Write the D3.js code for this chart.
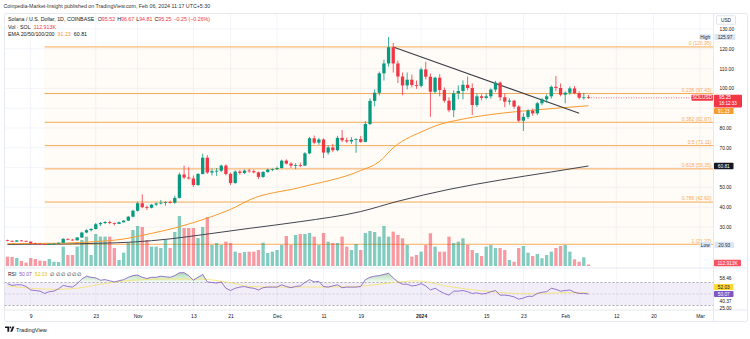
<!DOCTYPE html>
<html><head><meta charset="utf-8">
<script src="https://cdn.jsdelivr.net/npm/d3@7"></script>
<style>body{margin:0;background:#fff}svg{display:block}</style>
</head><body><svg id="c" width="750" height="339"></svg>
<script>
// ---------------- DATA ----------------
const firstDay = "2023-10-04";
const opens  = [23.3,23.0,22.6,23.2,23.0,22.6,21.7,21.6,21.3,21.2,21.5,21.6,22.0,24.0,23.6,23.3,24.7,27.2,28.4,29.0,31.4,32.0,32.5,32.0,31.6,32.4,33.2,35.2,38.2,42.0,40.0,39.7,41.3,41.9,42.3,42.6,42.3,44.7,56.5,55.0,54.5,51.2,56.8,65.0,57.5,58.2,58.4,61.0,56.8,52.2,58.0,57.3,58.5,58.2,57.6,55.3,57.8,59.0,59.2,59.8,63.5,62.0,61.0,61.2,61.0,67.2,74.8,72.6,74.2,67.6,70.2,68.8,75.0,73.8,73.2,74.0,74.4,73.0,82.0,93.7,97.8,107.6,112.6,120.8,112.6,106.0,101.5,104.4,101.7,101.3,109.6,105.9,98.3,105.4,99.2,93.8,89.0,97.5,98.7,101.8,100.2,91.6,96.0,95.2,96.0,99.4,102.9,95.5,93.3,93.8,90.8,83.7,85.6,88.7,87.4,92.5,94.5,96.0,100.8,100.2,96.8,97.8,100.0,97.6,95.3,95.52];
const highs  = [23.6,23.2,23.4,23.4,23.1,22.7,22.1,21.7,21.5,21.7,21.8,22.2,24.4,24.3,24.0,24.9,27.6,28.8,29.4,32.0,32.6,33.0,33.2,32.2,32.8,33.5,35.5,38.8,42.8,46.5,40.8,41.6,42.4,43.6,43.0,43.3,45.8,57.5,61.0,60.2,56.0,57.2,67.0,66.3,59.5,59.8,61.5,61.6,57.5,58.6,58.8,59.0,59.4,59.0,58.0,58.2,59.5,59.6,60.5,64.0,64.2,62.8,62.2,62.5,67.8,75.5,76.2,75.0,74.8,71.2,72.0,76.0,79.0,75.2,75.4,74.8,76.0,83.5,95.0,99.5,108.5,114.5,125.97,123.0,114.0,108.0,108.0,107.0,104.0,110.5,113.5,107.5,106.0,107.2,100.5,95.5,99.0,101.5,104.0,106.0,102.5,97.5,97.0,97.5,100.0,103.8,103.5,97.5,95.0,94.2,91.5,87.5,89.5,89.8,93.2,95.2,97.0,101.5,106.3,102.5,98.5,101.0,101.2,98.5,97.8,96.67];
const lows   = [22.8,22.4,22.5,22.8,22.4,21.4,21.4,21.1,20.93,21.1,21.3,21.5,21.9,23.3,23.1,23.1,24.5,26.9,27.8,28.7,30.5,31.5,31.4,30.8,31.5,32.2,33.0,34.8,37.8,39.5,38.6,39.4,40.6,41.4,40.8,41.8,41.6,44.4,54.2,54.0,50.2,50.8,56.5,56.8,56.0,55.8,57.8,56.0,51.2,51.8,56.4,56.8,57.4,57.0,54.2,54.8,57.4,58.2,58.8,59.5,61.6,59.8,59.2,60.2,60.8,66.8,71.8,71.5,64.8,66.5,67.8,68.2,72.8,72.4,72.0,67.5,72.5,72.8,81.5,91.0,96.5,104.0,111.0,108.0,102.7,96.5,99.5,100.5,99.8,100.5,104.5,85.7,97.5,96.0,92.8,88.0,85.5,94.5,94.5,99.0,86.6,90.5,94.0,94.5,94.8,98.2,93.8,90.5,91.8,89.8,83.0,78.5,84.5,86.2,86.5,91.5,92.8,94.8,98.5,96.0,92.5,96.8,97.0,94.5,94.3,94.81];
const closes = [23.0,22.6,23.2,23.0,22.6,21.7,21.6,21.3,21.2,21.5,21.6,22.0,24.0,23.6,23.3,24.7,27.2,28.4,29.0,31.4,32.0,32.5,32.0,31.6,32.4,33.2,35.2,38.2,42.0,40.0,39.7,41.3,41.9,42.3,42.6,42.3,44.7,56.5,55.0,54.5,51.2,56.8,65.0,57.5,58.2,58.4,61.0,56.8,52.2,58.0,57.3,58.5,58.2,57.6,55.3,57.8,59.0,59.2,59.8,63.5,62.0,61.0,61.2,61.0,67.2,74.8,72.6,74.2,67.6,70.2,68.8,75.0,73.8,73.2,74.0,74.4,73.0,82.0,93.7,97.8,107.6,112.6,120.8,112.6,106.0,101.5,104.4,101.7,101.3,109.6,105.9,98.3,105.4,99.2,93.8,89.0,97.5,98.7,101.8,100.2,91.6,96.0,95.2,96.0,99.4,102.9,95.5,93.3,93.8,90.8,83.7,85.6,88.7,87.4,92.5,94.5,96.0,100.8,100.2,96.8,97.8,100.0,97.6,95.3,95.50,95.25];
// volume, thousands of SOL
const volumes = [700,675,600,375,250,600,525,400,375,525,320,300,1450,825,825,1450,1950,2200,825,2400,2200,2200,2200,1350,450,1000,1725,2700,3000,2925,1950,1450,1450,1350,1950,1350,2550,3750,2850,2850,2850,2100,2925,3675,1575,1725,1575,1825,1725,1075,975,1050,1075,1075,1200,1750,975,1075,1200,1575,2250,1575,2325,2400,2400,2475,2200,1575,2475,1825,1725,1725,2200,1450,1200,1650,1200,2475,2625,2550,2200,3000,2200,2575,2325,2075,1575,700,825,1075,1575,2450,1450,1075,1075,2200,1725,1825,2075,1575,1200,975,750,1450,1575,1350,1350,1200,450,320,1350,1500,1000,750,900,580,825,1075,1350,1500,1575,1075,500,320,650,112.913];
// RSI (14)
const rsiValues = [68,65,66,66,63,57,56,55,51,54,55,59,65,63,62,68,76,81,79,78,74,75,73,71,73,75,79,82,83,79,77,79,79,81,80,79,82,87,87,82,74,79,84,71,70,69,71,60,56,60,62,63,61,60,57,61,62,62,62,66,63,61,63,64,70,75,71,72,63,62,64,66,61,62,62,62,63,75,79,81,82,84,86,78,71,67,67,64,65,68,64,57,60,55,51,48,55,55,56,54,51,52,50,51,54,56,48,48,47,45,41,43,46,46,51,53,54,60,58,55,56,57,53,51,51,50.07];
// RSI-based MA (sampled points: day index, value)
const rsiMaDays = [0,5,10,15,20,27,34,41,49,52,63,74,81,88,95,102,106,113,120,125];
const rsiMaVals = [64,60,58,60,67,74,76,76,68,63,62,62.5,68,73,63,55.5,52.5,50.3,52.5,52.03];
// EMA lines (sampled points: day index, value)
const emaOrangeDays = [0,11,20,24,31,36,39,43,49,52,63,76,80,83,90,92,98,106,113,125];
const emaOrangeVals = [21.6,21.8,22.8,23.6,26.8,29.5,31.5,34.5,40,43.6,50,58.5,63,70,79,81,84.5,87.4,89,91.23];
const emaDarkDays = [0,11,20,27,35,41,52,63,76,84,95,106,117,125];
const emaDarkVals = [21.2,21.4,21.8,22.4,24.0,25.8,29.3,32.7,37.8,43.0,49.0,53.7,57.8,60.81];
// Fibonacci retracement
const fibRatios = ["0","0.236","0.382","0.5","0.618","0.786","1"];
const fibPrices = [120.95,97.43,82.87,71.11,59.35,42.60,21.27];
const fibStart = "2023-10-12";
// Trend line
const trendDates = ["2023-12-26","2024-02-04"];
const trendPrices = [120.95,87.4];
// Axes
const priceTicks = [130,120,110,100,80,70,50,40,30];
const priceGrid = [130,120,110,100,90,80,70,60,50,40,30,20];
const xTickDates = ["2023-10-09","2023-10-23","2023-11-01","2023-11-13","2023-11-21","2023-12-01","2023-12-11","2023-12-19","2024-01-01","2024-01-15","2024-01-23","2024-02-01","2024-02-12","2024-02-20","2024-03-01"];
const xTickLabels = ["9","23","Nov","13","21","Dec","11","19","2024","15","23","Feb","12","20","Mar"];
const rsiAxisVals = [58.46,40.37,25.00];

// ---------------- LAYOUT ----------------
const FONT = '"Liberation Sans", Arial, sans-serif';
const L=4.5, R=713.5, PT=13.5, PB=267.5, RT=268.5, RB=310, XB=321.5;
const UP="#089981", DN="#f23645", ORANGE="#f79a2e", FIB="#f6ab58";
const parse = d3.utcParse("%Y-%m-%d");
const days = d3.utcDays(parse(firstDay), d3.utcDay.offset(parse(firstDay), closes.length));
const data = days.map((d,i)=>({d, o:opens[i], h:highs[i], l:lows[i], c:closes[i], v:volumes[i], r:rsiValues[i]}));

const x = d3.scaleUtc().domain([parse("2023-10-09"), parse("2024-03-01")]).range([30.7, 700]);
const y = d3.scaleLinear().domain([20,130]).range([246.8, 29]);
const yv = d3.scaleLinear().domain([0,3750]).range([266,216]);
const yr = d3.scaleLinear().domain([30,70]).range([305.5,282.5]);

const svg = d3.select("#c").attr("font-family", FONT);
const defs = svg.append("defs");
defs.append("clipPath").attr("id","cp").append("rect").attr("x",L).attr("y",PT).attr("width",R-L).attr("height",PB-PT);
defs.append("clipPath").attr("id","cr").append("rect").attr("x",L).attr("y",RT).attr("width",R-L).attr("height",RB-RT);
defs.append("clipPath").attr("id","cob").append("rect").attr("x",L).attr("y",RT).attr("width",R-L).attr("height",yr(70)-RT);
defs.append("clipPath").attr("id","cax").append("rect").attr("x",R).attr("y",RT).attr("width",750-R).attr("height",RB-RT);
const gr = defs.append("linearGradient").attr("id","gob").attr("gradientUnits","userSpaceOnUse")
  .attr("x1",0).attr("x2",0).attr("y1",yr(100)).attr("y2",yr(70));
gr.append("stop").attr("offset",0).attr("stop-color","#4caf50").attr("stop-opacity",0.75);
gr.append("stop").attr("offset",1).attr("stop-color","#4caf50").attr("stop-opacity",0.05);

svg.append("rect").attr("width",750).attr("height",339).attr("fill","#fff");

// header
svg.append("text").attr("x",3.5).attr("y",8).attr("font-size",5.3).attr("fill","#333")
  .text("Coinpedia-Market-Insight published on TradingView.com, Feb 06, 2024 11:17 UTC+5:30");

// outer frame
svg.append("rect").attr("x",L).attr("y",PT).attr("width",743).attr("height",XB-PT).attr("rx",2)
  .attr("fill","none").attr("stroke","#e0e3eb").attr("stroke-width",0.8);

// grid
const grid = svg.append("g").attr("stroke","#f0f3fa").attr("stroke-width",0.8);
grid.selectAll(".gv").data(xTickDates).join("line").attr("x1",d=>x(parse(d))).attr("x2",d=>x(parse(d)))
  .attr("y1",PT).attr("y2",RB);
grid.selectAll(".gh").data(priceGrid).join("line").attr("x1",L).attr("x2",R).attr("y1",d=>y(d)).attr("y2",d=>y(d));

// price pane
const P = svg.append("g").attr("clip-path","url(#cp)");
const fx0 = x(parse(fibStart));
P.append("rect").attr("x",fx0).attr("y",y(fibPrices[0])).attr("width",R-fx0).attr("height",y(fibPrices[6])-y(fibPrices[0]))
  .attr("fill","#ff9800").attr("opacity",0.035);
P.selectAll(".fib").data(fibPrices).join("line").attr("x1",fx0).attr("x2",R).attr("y1",d=>y(d)).attr("y2",d=>y(d))
  .attr("stroke",FIB).attr("stroke-width",1);
P.selectAll(".fibt").data(fibPrices).join("text").attr("x",R-2).attr("y",d=>y(d)-1.6).attr("text-anchor","end")
  .attr("font-size",5).attr("fill",FIB).text((d,i)=>`${fibRatios[i]} (${d.toFixed(2)})`);

// volume
const bw = 3.3;
P.selectAll(".vol").data(data).join("rect").attr("x",d=>x(d.d)-bw/2).attr("width",bw)
  .attr("y",d=>yv(d.v)).attr("height",d=>yv(0)-yv(d.v))
  .attr("fill",d=>d.c>=d.o?"rgba(8,153,129,0.5)":"rgba(242,54,69,0.5)");

// EMA lines
const line = d3.line().curve(d3.curveMonotoneX);
const dayX = i=>x(days[i]);
P.append("path").attr("d", line(emaDarkDays.map((di,k)=>[dayX(di), y(emaDarkVals[k])])))
  .attr("fill","none").attr("stroke","#434651").attr("stroke-width",1);
P.append("path").attr("d", line(emaOrangeDays.map((di,k)=>[dayX(di), y(emaOrangeVals[k])])))
  .attr("fill","none").attr("stroke",ORANGE).attr("stroke-width",1);

// trend line
P.append("line").attr("x1",x(parse(trendDates[0]))).attr("y1",y(trendPrices[0]))
  .attr("x2",x(parse(trendDates[1]))).attr("y2",y(trendPrices[1]))
  .attr("stroke","#3c3f48").attr("stroke-width",1.1);

// candles
const cg = P.append("g");
cg.selectAll(".wk").data(data).join("line").attr("x1",d=>x(d.d)).attr("x2",d=>x(d.d))
  .attr("y1",d=>y(d.h)).attr("y2",d=>y(d.l)).attr("stroke",d=>d.c>=d.o?UP:DN).attr("stroke-width",0.8);
cg.selectAll(".bd").data(data).join("rect").attr("x",d=>x(d.d)-bw/2).attr("width",bw)
  .attr("y",d=>y(Math.max(d.o,d.c))).attr("height",d=>Math.max(0.8,Math.abs(y(d.o)-y(d.c))))
  .attr("fill",d=>d.c>=d.o?UP:DN);

// last price line
const last = data[data.length-1];
const prev = data[data.length-2];
P.append("line").attr("x1",x(last.d)).attr("x2",R).attr("y1",y(last.c)).attr("y2",y(last.c))
  .attr("stroke",DN).attr("stroke-width",0.7).attr("stroke-dasharray","1,1.5");

// legend
const lg = svg.append("g").attr("font-size",5.3);
const t1 = lg.append("text").attr("x",8).attr("y",21).attr("fill","#131722");
t1.append("tspan").text("Solana / U.S. Dollar, 1D, COINBASE ");
[["O",last.o.toFixed(2)],["H",last.h.toFixed(2)],["L",last.l.toFixed(2)],["C",last.c.toFixed(2)]].forEach(([k,v])=>{
  t1.append("tspan").attr("dx",2).attr("fill","#131722").text(k);
  t1.append("tspan").attr("fill",DN).text(v);
});
const chg = last.c - prev.c;
t1.append("tspan").attr("dx",2).attr("fill",DN).text(`\u2212${Math.abs(chg).toFixed(2)} (\u2212${Math.abs(chg/prev.c*100).toFixed(2)}%)`);
const t2 = lg.append("text").attr("x",8).attr("y",28.6).attr("fill","#131722");
t2.append("tspan").text("Vol \u00b7 SOL");
t2.append("tspan").attr("dx",3).attr("fill",DN).text(last.v.toFixed(3)+"K");
const t3 = lg.append("text").attr("x",8).attr("y",36.2).attr("fill","#131722");
t3.append("tspan").text("EMA 20/50/100/200");
t3.append("tspan").attr("dx",3).attr("fill",ORANGE).text(emaOrangeVals[emaOrangeVals.length-1].toFixed(2));
t3.append("tspan").attr("dx",3).attr("fill","#131722").text(emaDarkVals[emaDarkVals.length-1].toFixed(2));

// pane separators
svg.append("line").attr("x1",L).attr("x2",747.5).attr("y1",PB+0.5).attr("y2",PB+0.5).attr("stroke","#e0e3eb").attr("stroke-width",0.8);
svg.append("line").attr("x1",L).attr("x2",747.5).attr("y1",RB).attr("y2",RB).attr("stroke","#e0e3eb").attr("stroke-width",0.8);
svg.append("line").attr("x1",R).attr("x2",R).attr("y1",PT).attr("y2",XB).attr("stroke","#e0e3eb").attr("stroke-width",0.8);

// price axis
const ya = d3.axisRight(y).tickValues(priceTicks).tickFormat(d3.format(".2f")).tickSize(0).tickPadding(0);
const yag = svg.append("g").attr("transform",`translate(${R+6},0)`).call(ya);
yag.select(".domain").remove();
yag.selectAll("text").attr("font-size",4.8).attr("fill","#131722").attr("font-family",FONT);

function tag(x0, yc, w, h, bg, fg, txt, stroke){
  const g = svg.append("g");
  g.append("rect").attr("x",x0).attr("y",yc-h/2).attr("width",w).attr("height",h).attr("rx",0.8)
    .attr("fill",bg).attr("stroke",stroke||"none").attr("stroke-width",0.6);
  g.append("text").attr("x",x0+w/2).attr("y",yc).attr("dy","0.35em").attr("text-anchor","middle")
    .attr("font-size",4.8).attr("fill",fg).text(txt);
  return g;
}
tag(716.5, 20, 19, 8.5, "#fff", "#131722", "USD", "#d1d4dc");
tag(699.5, y(125.97), 11.5, 5.6, "#dbe7f7", "#2a2e39", "High");
tag(714.5, y(125.97), 21, 6.2, "#dbe7f7", "#2a2e39", "125.97");
tag(691.5, y(last.c), 21.5, 6, DN, "#fff", "SOLUSD");
const pl = svg.append("g");
pl.append("rect").attr("x",714).attr("y",y(last.c)-3).attr("width",28).attr("height",12.6).attr("rx",0.8).attr("fill",DN);
pl.append("text").attr("x",719).attr("y",y(last.c)).attr("dy","0.35em").attr("font-size",4.8).attr("fill","#fff").text(last.c.toFixed(2));
pl.append("text").attr("x",719).attr("y",y(last.c)+5.8).attr("dy","0.35em").attr("font-size",4.6).attr("fill","#fff").text("18:12:33");
tag(714, y(last.c)+13.2, 19.5, 6.2, ORANGE, "#fff", emaOrangeVals[emaOrangeVals.length-1].toFixed(2));
tag(714, y(emaDarkVals[emaDarkVals.length-1]), 19.5, 6.4, "#131722", "#fff", emaDarkVals[emaDarkVals.length-1].toFixed(2));
tag(699.5, y(20.93), 11.5, 5.6, "#dbe7f7", "#2a2e39", "Low");
tag(714.5, y(20.93), 19.5, 6.2, "#dbe7f7", "#2a2e39", "20.93");
tag(714, yv(0)-3, 27, 6.4, "#f7525f", "#fff", last.v.toFixed(3)+"K");

// RSI pane
const RG = svg.append("g").attr("clip-path","url(#cr)");
RG.append("rect").attr("x",L).attr("y",yr(70)).attr("width",R-L).attr("height",yr(30)-yr(70)).attr("fill","#7e57c2").attr("opacity",0.1);
[70,30].forEach(v=>RG.append("line").attr("x1",L).attr("x2",R).attr("y1",yr(v)).attr("y2",yr(v))
  .attr("stroke","#787b86").attr("stroke-width",0.6).attr("stroke-dasharray","2,2"));
RG.append("line").attr("x1",L).attr("x2",R).attr("y1",yr(50)).attr("y2",yr(50))
  .attr("stroke","#787b86").attr("stroke-opacity",0.45).attr("stroke-width",0.6).attr("stroke-dasharray","2,2");
RG.append("path").attr("clip-path","url(#cob)")
  .attr("d", d3.area().x(d=>x(d.d)).y0(yr(70)).y1(d=>yr(d.r))(data)).attr("fill","url(#gob)");
RG.append("path").attr("d", line(rsiMaDays.map((di,k)=>[dayX(di), yr(rsiMaVals[k])])))
  .attr("fill","none").attr("stroke","#f5e26a").attr("stroke-width",0.8);
RG.append("path").attr("d", d3.line().x(d=>x(d.d)).y(d=>yr(d.r))(data))
  .attr("fill","none").attr("stroke","#7e57c2").attr("stroke-width",0.8);

const rl = svg.append("text").attr("x",8).attr("y",276).attr("font-size",5);
rl.append("tspan").attr("fill","#131722").text("RSI");
rl.append("tspan").attr("dx",3).attr("fill","#7e57c2").text(rsiValues[rsiValues.length-1].toFixed(2));
rl.append("tspan").attr("dx",3).attr("fill","#e6c200").text(rsiMaVals[rsiMaVals.length-1].toFixed(2));
rl.append("tspan").attr("dx",3).attr("fill","#131722").text("\u2205 \u2205 \u2205 \u2205 \u2205 \u2205");

// RSI axis labels (positions shifted by collision like the original)
const rax = svg.append("g").attr("clip-path","url(#cax)").attr("font-size",4.8).attr("fill","#131722");
const rsiLabelY = [278.3, 301.7, 308.6];
rax.selectAll("text").data(rsiAxisVals).join("text").attr("x",R+6).attr("y",(d,i)=>rsiLabelY[i]).attr("dy","0.35em").text(d=>d.toFixed(2));
tag(714, 287, 19.5, 6.2, "#fdd835", "#131722", rsiMaVals[rsiMaVals.length-1].toFixed(2));
tag(714, 294, 19.5, 6.2, "#7e57c2", "#fff", rsiValues[rsiValues.length-1].toFixed(2));

// x axis
const xa = d3.axisBottom(x).tickValues(xTickDates.map(parse)).tickFormat((d,i)=>xTickLabels[i]).tickSize(0).tickPadding(0);
const xag = svg.append("g").attr("transform",`translate(0,${314.3})`).call(xa);
xag.select(".domain").remove();
xag.selectAll("text").attr("font-size",5).attr("fill","#131722").attr("font-family",FONT)
  .attr("font-weight",(d,i)=>xTickLabels[i]==="2024"?"bold":"normal");

// TradingView logo
const lgo = svg.append("g").attr("transform","translate(5,326.5)").attr("fill","#131722");
lgo.append("path").attr("d","M0 0 H4.2 V5.2 H2.4 V1.6 H0 Z");
lgo.append("circle").attr("cx",5.4).attr("cy",0.9).attr("r",0.9);
lgo.append("path").attr("d","M7.4 0 H9.4 L7.2 5.2 H5.2 Z");
svg.append("text").attr("x",16).attr("y",331.5).attr("font-size",5.6).attr("fill","#131722").text("TradingView");
</script></body></html>
